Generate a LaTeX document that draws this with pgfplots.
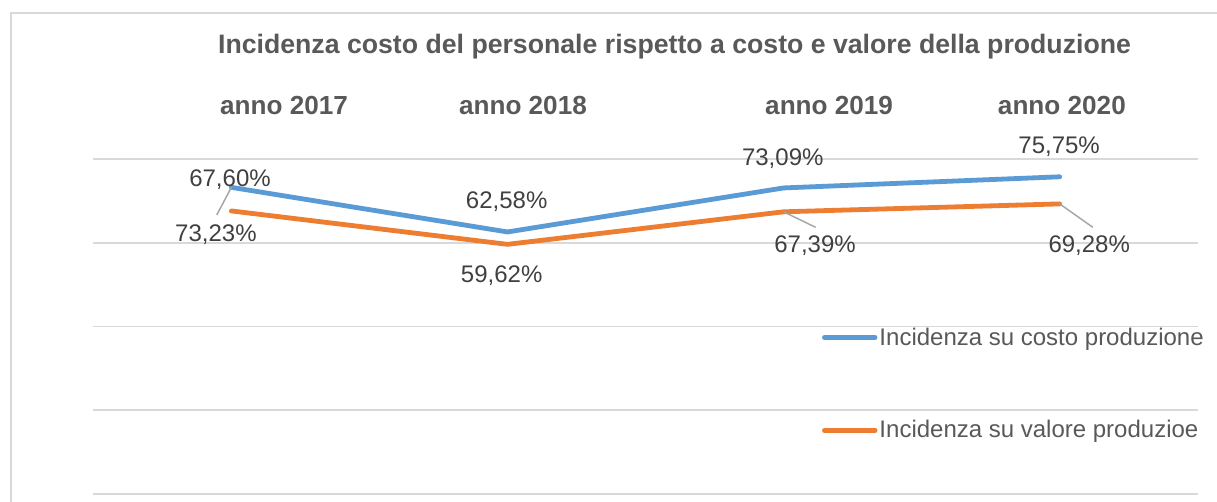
\documentclass[border=0pt]{standalone}
\usepackage{fontspec}
\setmainfont{Liberation Sans}
\usepackage{pgfplots}
\pgfplotsset{compat=1.18}
\definecolor{cblue}{HTML}{5B9BD5}
\definecolor{corange}{HTML}{ED7D31}
\definecolor{tgray}{HTML}{595959}
\definecolor{lblgray}{HTML}{404040}
\definecolor{gridc}{HTML}{D9D9D9}
\definecolor{leader}{HTML}{A6A6A6}
\begin{document}
\begin{tikzpicture}
\path[use as bounding box, fill=white] (0,0) rectangle (912.75bp,376.5bp);
\draw[gridc, line width=1.3bp] (8.25bp,-5bp) -- (8.25bp,366.75bp) -- (920bp,366.75bp);
\begin{axis}[
  at={(70bp,6bp)}, anchor=south west,
  scale only axis, width=828.3bp, height=251.25bp,
  xmin=-0.5, xmax=3.5, ymin=0, ymax=80,
  clip=false,
  axis line style={draw=none},
  tick style={draw=none},
  xtick=\empty,
  ytick={0,20,40,60,80}, yticklabels={},
  ymajorgrids, grid style={gridc, line width=1.2bp},
  legend style={at={(0.6598,0.3288)}, anchor=west, draw=none, fill=none,
    inner sep=0pt, outer sep=0pt, row sep=52bp,
    nodes={inner sep=1.5bp},
    font=\fontsize{18bp}{21bp}\selectfont\color{tgray}},
  legend cell align=left,
  legend image code/.code={\draw[#1, line cap=round] (0bp,0bp) -- (38bp,0bp);},
]
\addplot[cblue, line width=3.6bp, line join=round, line cap=round] coordinates {(0,73.23) (1,62.58) (2,73.09) (3,75.75)};
\addlegendentry{Incidenza su costo produzione}
\addplot[corange, line width=3.6bp, line join=round, line cap=round] coordinates {(0,67.60) (1,59.62) (2,67.39) (3,69.28)};
\addlegendentry{Incidenza su valore produzioe}

% leader lines
\draw[leader, line width=1.1bp] (axis cs:0,73.23) -- (axis cs:-0.053,66.63);
\draw[leader, line width=1.1bp] (axis cs:2,67.39) -- (axis cs:2.116,63.69);
\draw[leader, line width=1.1bp] (axis cs:3,69.28) -- (axis cs:3.120,63.69);

% data labels
\begin{scope}[every node/.style={font=\fontsize{18bp}{21bp}\selectfont, text=lblgray, anchor=center, inner sep=0pt}]
\node at (axis cs:-0.005,74.99) {67,60\%};
\node at (axis cs:-0.056,61.85) {73,23\%};
\node at (axis cs:0.997,69.8) {62,58\%};
\node at (axis cs:0.979,52.06) {59,62\%};
\node at (axis cs:1.997,80.17) {73,09\%};
\node at (axis cs:2.114,59.22) {67,39\%};
\node at (axis cs:2.998,82.94) {75,75\%};
\node at (axis cs:3.107,59.22) {69,28\%};
\end{scope}

% title and year headers
\node[anchor=base, inner sep=0pt, text=tgray, font=\fontsize{20bp}{24bp}\selectfont\bfseries] at (axis cs:1.605,105.24) {Incidenza costo del personale rispetto a costo e valore della produzione};
\begin{scope}[every node/.style={anchor=base, inner sep=0pt, text=tgray, font=\fontsize{19.6bp}{24bp}\selectfont\bfseries}]
\node at (axis cs:0.191,90.67) {anno 2017};
\node at (axis cs:1.056,90.67) {anno 2018};
\node at (axis cs:2.165,90.67) {anno 2019};
\node at (axis cs:3.008,90.67) {anno 2020};
\end{scope}
\end{axis}
\end{tikzpicture}
\end{document}
